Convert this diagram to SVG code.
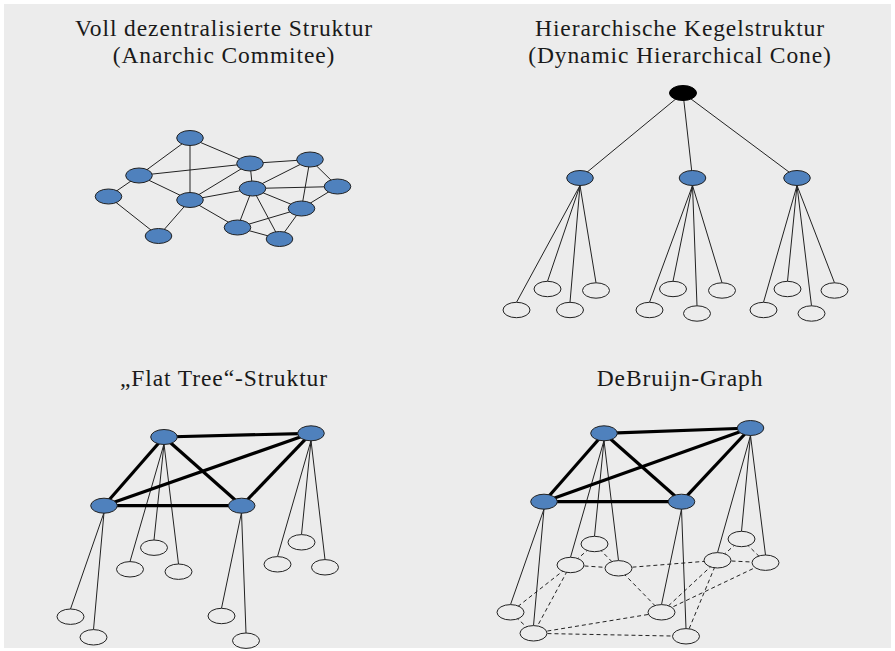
<svg xmlns="http://www.w3.org/2000/svg" width="895" height="651" viewBox="0 0 895 651">
  <style>
    .title { font-family: "Liberation Serif", "DejaVu Serif", serif; font-size: 23.5px; letter-spacing: 0.9px; fill: #1a1a1a; text-anchor: middle; }
    .peer { fill: #4f81bd; stroke: #222; stroke-width: 1; }
    .root { fill: #000; stroke: #000; stroke-width: 1; }
    .leaf { fill: #ececec; stroke: #222; stroke-width: 1; }
    .edge { stroke: #222; stroke-width: 1; fill: none; }
    .thick { stroke: #000; stroke-width: 3.2; fill: none; }
    .dash { stroke: #222; stroke-width: 1; stroke-dasharray: 4 3; fill: none; }
  </style>
  <defs>
    <ellipse id="pe" rx="13.3" ry="7.5"/>
    <ellipse id="le" rx="13.5" ry="7.7"/>
  </defs>

  <rect x="4" y="4" width="887" height="644" fill="#ececec"/>

  <!-- headings -->
  <g id="titles">
    <text class="title" x="224" y="36">Voll dezentralisierte Struktur</text>
    <text class="title" x="224" y="63">(Anarchic Commitee)</text>
    <text class="title" x="680" y="36">Hierarchische Kegelstruktur</text>
    <text class="title" x="680" y="63">(Dynamic Hierarchical Cone)</text>
    <text class="title" x="224" y="386">„Flat Tree“-Struktur</text>
    <text class="title" x="680" y="386">DeBruijn-Graph</text>
  </g>

  <!-- connectors -->
  <g id="connectors">
    <!-- fully decentralised mesh -->
    <g id="mesh-edges" class="edge">
      <line x1="190" y1="138" x2="139" y2="175.5"/>
      <line x1="190" y1="138" x2="190" y2="200"/>
      <line x1="190" y1="138" x2="250" y2="163.5"/>
      <line x1="139" y1="175.5" x2="250" y2="163.5"/>
      <line x1="139" y1="175.5" x2="190" y2="200"/>
      <line x1="139" y1="175.5" x2="108.5" y2="196.5"/>
      <line x1="108.5" y1="196.5" x2="158.5" y2="236"/>
      <line x1="190" y1="200" x2="158.5" y2="236"/>
      <line x1="190" y1="200" x2="252.5" y2="188.5"/>
      <line x1="190" y1="200" x2="237.5" y2="227.5"/>
      <line x1="250" y1="163.5" x2="190" y2="200"/>
      <line x1="250" y1="163.5" x2="310" y2="159.5"/>
      <line x1="250" y1="163.5" x2="252.5" y2="188.5"/>
      <line x1="252.5" y1="188.5" x2="310" y2="159.5"/>
      <line x1="252.5" y1="188.5" x2="337.5" y2="186.5"/>
      <line x1="252.5" y1="188.5" x2="301.5" y2="208.5"/>
      <line x1="252.5" y1="188.5" x2="237.5" y2="227.5"/>
      <line x1="252.5" y1="188.5" x2="279.5" y2="239"/>
      <line x1="310" y1="159.5" x2="301.5" y2="208.5"/>
      <line x1="310" y1="159.5" x2="337.5" y2="186.5"/>
      <line x1="337.5" y1="186.5" x2="301.5" y2="208.5"/>
      <line x1="301.5" y1="208.5" x2="237.5" y2="227.5"/>
      <line x1="301.5" y1="208.5" x2="279.5" y2="239"/>
      <line x1="237.5" y1="227.5" x2="279.5" y2="239"/>
    </g>

    <!-- hierarchical cone -->
    <g id="cone-edges" class="edge">
      <line x1="683" y1="93" x2="580" y2="178"/>
      <line x1="683" y1="93" x2="692.5" y2="178"/>
      <line x1="683" y1="93" x2="797" y2="178"/>
      <line x1="580" y1="185.5" x2="516.5" y2="302.3"/>
      <line x1="580" y1="185.5" x2="547.5" y2="281.3"/>
      <line x1="580" y1="185.5" x2="570" y2="302.3"/>
      <line x1="580" y1="185.5" x2="596" y2="282.8"/>
      <line x1="692.5" y1="185.5" x2="649.5" y2="302.3"/>
      <line x1="692.5" y1="185.5" x2="673" y2="281.3"/>
      <line x1="692.5" y1="185.5" x2="697" y2="305.8"/>
      <line x1="692.5" y1="185.5" x2="722" y2="282.8"/>
      <line x1="797" y1="185.5" x2="763.5" y2="302.3"/>
      <line x1="797" y1="185.5" x2="787.5" y2="281.3"/>
      <line x1="797" y1="185.5" x2="811.5" y2="305.8"/>
      <line x1="797" y1="185.5" x2="834.5" y2="282.8"/>
    </g>

    <!-- flat tree -->
    <g id="flat-edges">
      <g class="edge">
        <line x1="164" y1="444" x2="130" y2="561.6"/>
        <line x1="164" y1="444" x2="154" y2="540"/>
        <line x1="164" y1="444" x2="178.5" y2="564"/>
        <line x1="104" y1="512.5" x2="70.5" y2="609"/>
        <line x1="104" y1="512.5" x2="93.5" y2="629.6"/>
        <line x1="241.5" y1="512.5" x2="221.5" y2="608.3"/>
        <line x1="241.5" y1="512.5" x2="246" y2="633"/>
        <line x1="311" y1="440.5" x2="277.5" y2="556.6"/>
        <line x1="311" y1="440.5" x2="301.5" y2="534.6"/>
        <line x1="311" y1="440.5" x2="325" y2="559.6"/>
      </g>
      <g class="thick">
        <line x1="164" y1="437" x2="311" y2="433.3"/>
        <line x1="164" y1="437" x2="104" y2="505.7"/>
        <line x1="164" y1="437" x2="241.7" y2="505.7"/>
        <line x1="311" y1="433.3" x2="104" y2="505.7"/>
        <line x1="311" y1="433.3" x2="241.7" y2="505.7"/>
        <line x1="104" y1="505.7" x2="241.7" y2="505.7"/>
      </g>
    </g>

    <!-- de Bruijn graph -->
    <g id="debruijn-edges">
      <g class="edge">
        <line x1="604" y1="440.5" x2="570.5" y2="557.3"/>
        <line x1="604" y1="440.5" x2="594.5" y2="536.3"/>
        <line x1="604" y1="440.5" x2="618.5" y2="560.6"/>
        <line x1="544" y1="509" x2="510.5" y2="604.6"/>
        <line x1="544" y1="509" x2="533.5" y2="625.6"/>
        <line x1="681.5" y1="509" x2="661.5" y2="604.6"/>
        <line x1="681.5" y1="509" x2="686" y2="628.6"/>
        <line x1="750.5" y1="435.5" x2="717.5" y2="552.6"/>
        <line x1="750.5" y1="435.5" x2="741.5" y2="531.3"/>
        <line x1="750.5" y1="435.5" x2="765.5" y2="555"/>
      </g>
      <g class="dash">
        <line x1="594.5" y1="544" x2="570.5" y2="565"/>
        <line x1="594.5" y1="544" x2="618.5" y2="568.3"/>
        <line x1="570.5" y1="565" x2="618.5" y2="568.3"/>
        <line x1="570.5" y1="565" x2="510.5" y2="612.3"/>
        <line x1="570.5" y1="565" x2="533.5" y2="633.3"/>
        <line x1="618.5" y1="568.3" x2="717.5" y2="560.3"/>
        <line x1="618.5" y1="568.3" x2="661.5" y2="612.3"/>
        <line x1="510.5" y1="612.3" x2="533.5" y2="633.3"/>
        <line x1="533.5" y1="633.3" x2="661.5" y2="612.3"/>
        <line x1="533.5" y1="633.3" x2="686" y2="636.3"/>
        <line x1="741.5" y1="539" x2="717.5" y2="560.3"/>
        <line x1="741.5" y1="539" x2="765.5" y2="562.7"/>
        <line x1="717.5" y1="560.3" x2="765.5" y2="562.7"/>
        <line x1="717.5" y1="560.3" x2="661.5" y2="612.3"/>
        <line x1="717.5" y1="560.3" x2="686" y2="636.3"/>
        <line x1="765.5" y1="562.7" x2="661.5" y2="612.3"/>
      </g>
      <g class="thick">
        <line x1="604" y1="433.3" x2="750.5" y2="428"/>
        <line x1="604" y1="433.3" x2="544" y2="501.7"/>
        <line x1="604" y1="433.3" x2="681.5" y2="501.7"/>
        <line x1="750.5" y1="428" x2="544" y2="501.7"/>
        <line x1="750.5" y1="428" x2="681.5" y2="501.7"/>
        <line x1="544" y1="501.7" x2="681.5" y2="501.7"/>
      </g>
    </g>
  </g>

  <!-- nodes: fully decentralised mesh -->
  <g id="mesh-nodes">
    <g id="mesh-a"><use href="#pe" class="peer" x="190" y="138"/></g>
    <g id="mesh-b"><use href="#pe" class="peer" x="139" y="175.5"/></g>
    <g id="mesh-c"><use href="#pe" class="peer" x="108.5" y="196.5"/></g>
    <g id="mesh-d"><use href="#pe" class="peer" x="250" y="163.5"/></g>
    <g id="mesh-e"><use href="#pe" class="peer" x="310" y="159.5"/></g>
    <g id="mesh-f"><use href="#pe" class="peer" x="190" y="200"/></g>
    <g id="mesh-g"><use href="#pe" class="peer" x="252.5" y="188.5"/></g>
    <g id="mesh-h"><use href="#pe" class="peer" x="337.5" y="186.5"/></g>
    <g id="mesh-i"><use href="#pe" class="peer" x="158.5" y="236"/></g>
    <g id="mesh-j"><use href="#pe" class="peer" x="301.5" y="208.5"/></g>
    <g id="mesh-k"><use href="#pe" class="peer" x="237.5" y="227.5"/></g>
    <g id="mesh-l"><use href="#pe" class="peer" x="279.5" y="239"/></g>
  </g>

  <!-- nodes: hierarchical cone -->
  <g id="cone-nodes">
    <g id="cone-root"><ellipse class="root" cx="683" cy="93" rx="13.5" ry="7.5"/></g>
    <g id="cone-p1"><use href="#pe" class="peer" x="580" y="178"/></g>
    <g id="cone-p2"><use href="#pe" class="peer" x="692.5" y="178"/></g>
    <g id="cone-p3"><use href="#pe" class="peer" x="797" y="178"/></g>
    <g id="cone-l1"><use href="#le" class="leaf" x="516.5" y="310"/></g>
    <g id="cone-l2"><use href="#le" class="leaf" x="547.5" y="289"/></g>
    <g id="cone-l3"><use href="#le" class="leaf" x="570" y="310"/></g>
    <g id="cone-l4"><use href="#le" class="leaf" x="596" y="290.5"/></g>
    <g id="cone-l5"><use href="#le" class="leaf" x="649.5" y="310"/></g>
    <g id="cone-l6"><use href="#le" class="leaf" x="673" y="289"/></g>
    <g id="cone-l7"><use href="#le" class="leaf" x="697" y="313.5"/></g>
    <g id="cone-l8"><use href="#le" class="leaf" x="722" y="290.5"/></g>
    <g id="cone-l9"><use href="#le" class="leaf" x="763.5" y="310"/></g>
    <g id="cone-l10"><use href="#le" class="leaf" x="787.5" y="289"/></g>
    <g id="cone-l11"><use href="#le" class="leaf" x="811.5" y="313.5"/></g>
    <g id="cone-l12"><use href="#le" class="leaf" x="834.5" y="290.5"/></g>
  </g>

  <!-- nodes: flat tree -->
  <g id="flat-nodes">
    <g id="flat-p1"><use href="#pe" class="peer" x="164" y="437"/></g>
    <g id="flat-p2"><use href="#pe" class="peer" x="311" y="433.3"/></g>
    <g id="flat-p3"><use href="#pe" class="peer" x="104" y="505.7"/></g>
    <g id="flat-p4"><use href="#pe" class="peer" x="241.7" y="505.7"/></g>
    <g id="flat-l1"><use href="#le" class="leaf" x="130" y="569.3"/></g>
    <g id="flat-l2"><use href="#le" class="leaf" x="154" y="547.7"/></g>
    <g id="flat-l3"><use href="#le" class="leaf" x="178.5" y="571.7"/></g>
    <g id="flat-l4"><use href="#le" class="leaf" x="70.5" y="616.7"/></g>
    <g id="flat-l5"><use href="#le" class="leaf" x="93.5" y="637.3"/></g>
    <g id="flat-l6"><use href="#le" class="leaf" x="221.5" y="616"/></g>
    <g id="flat-l7"><use href="#le" class="leaf" x="246" y="640.7"/></g>
    <g id="flat-l8"><use href="#le" class="leaf" x="277.5" y="564.3"/></g>
    <g id="flat-l9"><use href="#le" class="leaf" x="301.5" y="542.3"/></g>
    <g id="flat-l10"><use href="#le" class="leaf" x="325" y="567.3"/></g>
  </g>

  <!-- nodes: de Bruijn graph -->
  <g id="debruijn-nodes">
    <g id="db-p1"><use href="#pe" class="peer" x="604" y="433.3"/></g>
    <g id="db-p2"><use href="#pe" class="peer" x="750.5" y="428"/></g>
    <g id="db-p3"><use href="#pe" class="peer" x="544" y="501.7"/></g>
    <g id="db-p4"><use href="#pe" class="peer" x="681.5" y="501.7"/></g>
    <g id="db-l1"><use href="#le" class="leaf" x="570.5" y="565"/></g>
    <g id="db-l2"><use href="#le" class="leaf" x="594.5" y="544"/></g>
    <g id="db-l3"><use href="#le" class="leaf" x="618.5" y="568.3"/></g>
    <g id="db-l4"><use href="#le" class="leaf" x="510.5" y="612.3"/></g>
    <g id="db-l5"><use href="#le" class="leaf" x="533.5" y="633.3"/></g>
    <g id="db-l6"><use href="#le" class="leaf" x="661.5" y="612.3"/></g>
    <g id="db-l7"><use href="#le" class="leaf" x="686" y="636.3"/></g>
    <g id="db-l8"><use href="#le" class="leaf" x="717.5" y="560.3"/></g>
    <g id="db-l9"><use href="#le" class="leaf" x="741.5" y="539"/></g>
    <g id="db-l10"><use href="#le" class="leaf" x="765.5" y="562.7"/></g>
  </g>
</svg>
